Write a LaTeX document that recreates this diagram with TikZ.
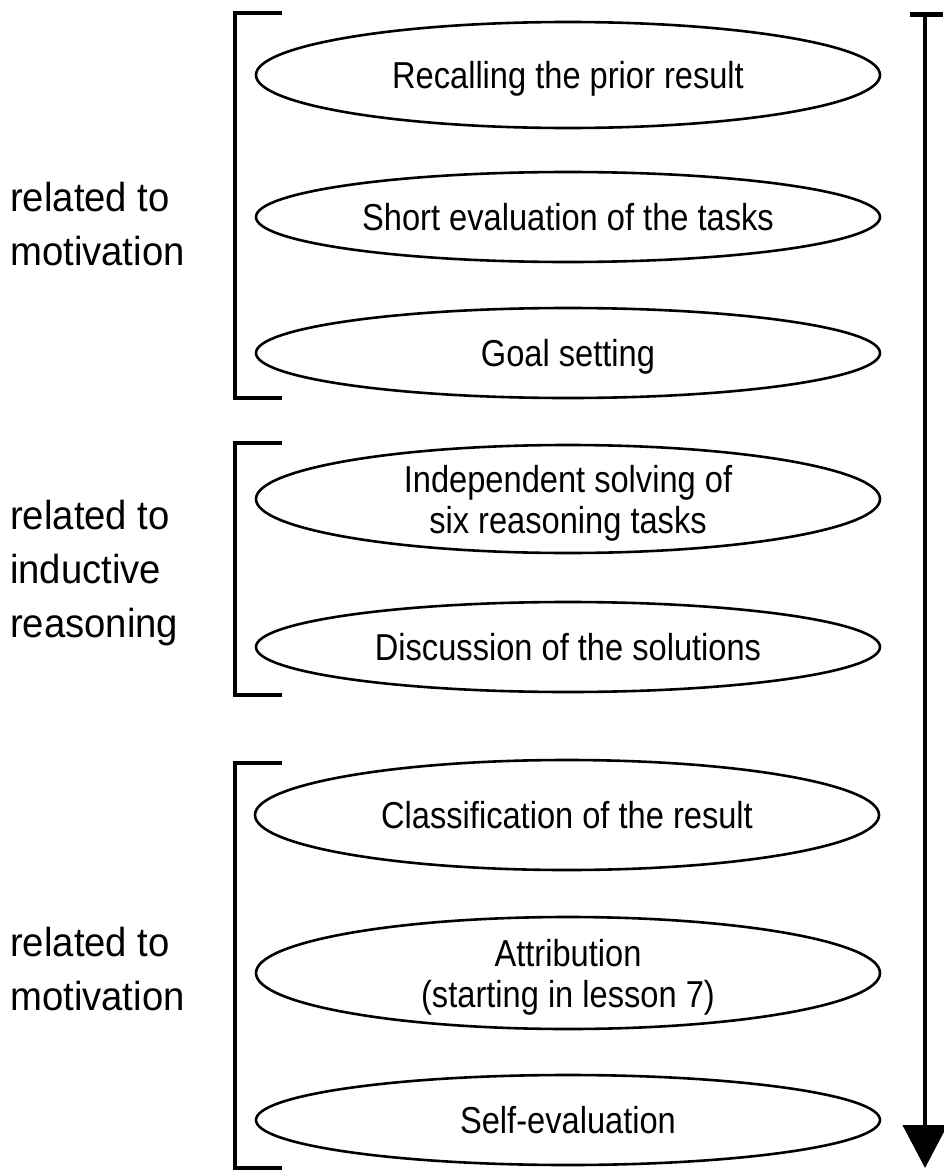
\documentclass[tikz,border=0pt]{standalone}
\usepackage{fontspec}
\setmainfont{Liberation Sans}
\newfontfamily\lblfont{Liberation Sans}[FakeStretch=0.945]
\newfontfamily\boxfont{Liberation Sans}[FakeStretch=0.87]
\usetikzlibrary{shapes.geometric,arrows.meta}
\tikzset{
  stage/.style={ellipse, draw, line width=2.6pt, inner sep=0pt, outer sep=0pt,
    minimum width=624pt, font=\boxfont\fontsize{37.5}{41}\selectfont,
    align=center, text depth=0pt},
  oneline/.style={stage, text height=27pt},
  twoline/.style={stage, text height=68pt},
  grouplabel/.style={anchor=base west, align=left, inner sep=0pt,
    font=\lblfont\fontsize{40.5}{54}\selectfont},
  brk/.style={line width=4.5pt, line cap=butt, line join=miter},
  flow/.style={line width=4.5pt, -{Triangle[length=43pt,width=44pt]}},
  tbar/.style={line width=5pt},
}
\begin{document}
\begin{tikzpicture}[x=1pt,y=-1pt]
\path[use as bounding box, fill=white] (0,0) rectangle (943,1170);

% stages
\node[oneline, minimum height=106pt] (e1) at (568,75)  {Recalling the prior result};
\node[oneline, minimum height=90pt]  (e2) at (568,217) {Short evaluation of the tasks};
\node[oneline, minimum height=90pt]  (e3) at (568,353) {Goal setting};
\node[twoline, minimum height=108pt] (e4) at (568,499) {Independent solving of\\six reasoning tasks};
\node[oneline, minimum height=90pt]  (e5) at (568,647) {Discussion of the solutions};
\node[oneline, minimum height=110pt] (e6) at (567,815) {Classification of the result};
\node[twoline, minimum height=112pt] (e7) at (568,973) {Attribution\\(starting in lesson 7)};
\node[oneline, minimum height=90pt]  (e8) at (568,1120) {Self-evaluation};

% group labels
\node[grouplabel] (g1) at (10,265)  {related to\\motivation};
\node[grouplabel] (g2) at (10,637)  {related to\\inductive\\reasoning};
\node[grouplabel] (g3) at (10,1010) {related to\\motivation};

% brackets
\coordinate (b1t) at (235,13);  \coordinate (b1b) at (235,398);
\coordinate (b2t) at (235,443); \coordinate (b2b) at (235,695);
\coordinate (b3t) at (235,763); \coordinate (b3b) at (235,1168);
\draw[brk] ([xshift=47pt]b1t) -- (b1t) -- (b1b) -- ([xshift=47pt]b1b);
\draw[brk] ([xshift=47pt]b2t) -- (b2t) -- (b2b) -- ([xshift=47pt]b2b);
\draw[brk] ([xshift=47pt]b3t) -- (b3t) -- (b3b) -- ([xshift=47pt]b3b);

% time arrow
\coordinate (atop) at (925,14);
\coordinate (abot) at (925,1168);
\draw[tbar] (910,14) -- (943,14);
\draw[flow] (atop) -- (abot);
\end{tikzpicture}
\end{document}
